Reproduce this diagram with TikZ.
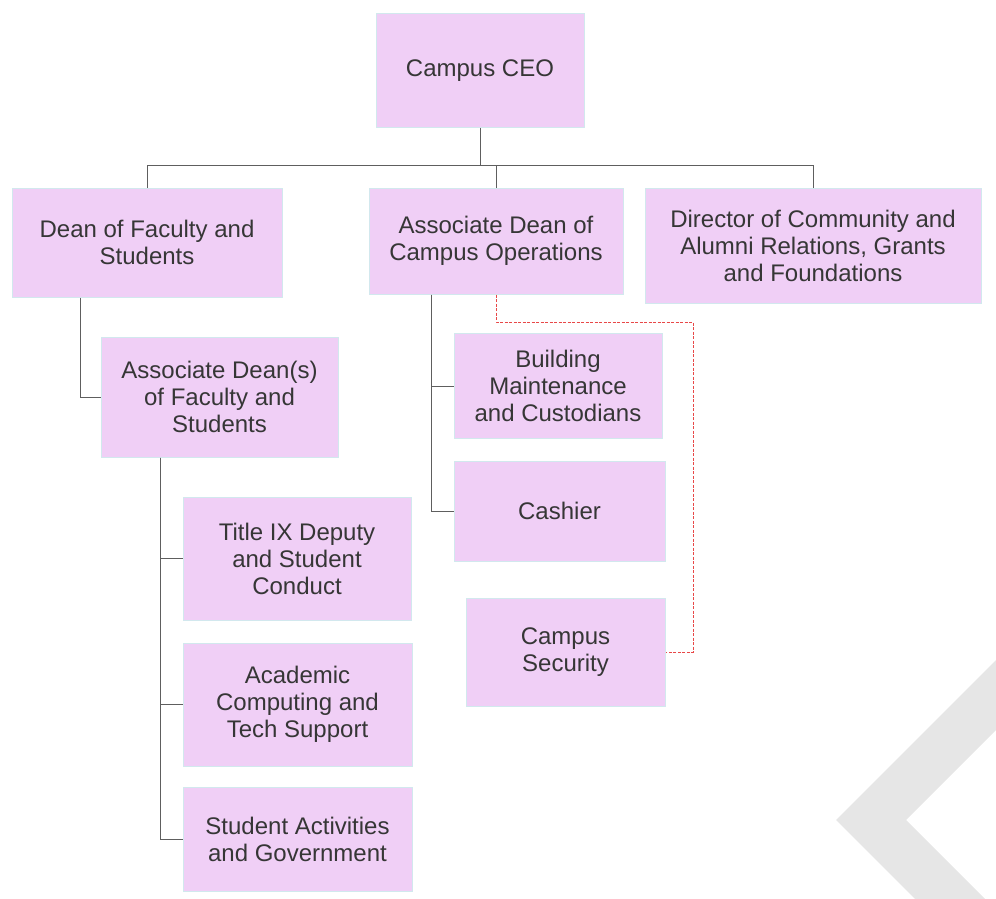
\documentclass[tikz,border=0pt]{standalone}
\usepackage{fontspec}
\setmainfont{Liberation Sans}
\definecolor{boxfill}{HTML}{F0CFF6}
\definecolor{boxline}{HTML}{D2E8EE}
\definecolor{txt}{HTML}{363636}
\definecolor{conncol}{HTML}{5E5E5E}
\definecolor{redline}{HTML}{E84848}
\definecolor{chev}{HTML}{E6E6E6}
\begin{document}
\begin{tikzpicture}[x=1pt,y=-1pt,
  orgbox/.style={draw=boxline, line width=1pt, fill=boxfill, text=txt, align=center,
    inner sep=0pt, font=\fontsize{24}{27}\selectfont},
  conn/.style={draw=conncol, line width=1pt},
  dotted link/.style={draw=redline, line width=1pt, dash pattern=on 3pt off 1.5pt}]
\useasboundingbox (0,0) rectangle (996,899);
% background chevron
\begin{scope}
\clip (0,0) rectangle (996,899);
\fill[chev] (836,820) -- (996,660) -- (996,730) -- (906,820) -- (985,899) -- (915,899) -- cycle;
\end{scope}
% nodes
\node[orgbox, minimum width=208pt, minimum height=113pt] (ceo) at (480,70.5) {Campus CEO};
\node[orgbox, minimum width=270pt, minimum height=109pt] (dean) at (147,242.5) {Dean of Faculty and\\Students};
\node[orgbox, minimum width=254pt, minimum height=106pt] (ops) at (496,241) {Associate Dean of\\Campus Operations};
\node[orgbox, minimum width=336pt, minimum height=115pt] (dir) at (813,245.5) {Director of Community and\\Alumni Relations, Grants\\and Foundations};
\node[orgbox, minimum width=237pt, minimum height=120pt] (adf) at (219.5,397) {Associate Dean(s)\\of Faculty and\\Students};
\node[orgbox, minimum width=228pt, minimum height=123pt] (t9) at (297,558.5) {Title IX Deputy\\and Student\\Conduct};
\node[orgbox, minimum width=229pt, minimum height=123pt] (acad) at (297.5,704.5) {Academic\\Computing and\\Tech Support};
\node[orgbox, minimum width=229pt, minimum height=104pt] (stud) at (297.5,839.5) {Student Activities\\and Government};
\node[orgbox, minimum width=208pt, minimum height=105pt] (bm) at (558,386) {Building\\Maintenance\\and Custodians};
\node[orgbox, minimum width=211pt, minimum height=100pt] (cash) at (559.5,511) {Cashier};
\node[orgbox, minimum width=199pt, minimum height=108pt] (sec) at (565.5,652) {Campus\\Security};
% connectors
\coordinate (bus) at (0,165);
\draw[conn] (ceo.south) -- (ceo.south |- bus);
\draw[conn] (ceo.south |- bus) -| (dean.north);
\draw[conn] (ceo.south |- bus) -| (ops.north);
\draw[conn] (ceo.south |- bus) -| (dir.north);
\draw[conn] ([xshift=-67pt]dean.south) |- (adf.west);
\draw[conn] ([xshift=60pt]adf.south west) |- (t9.west);
\draw[conn] ([xshift=60pt]adf.south west) |- (acad.west);
\draw[conn] ([xshift=60pt]adf.south west) |- (stud.west);
\draw[conn] ([xshift=63pt]ops.south west) |- (bm.west);
\draw[conn] ([xshift=63pt]ops.south west) |- (cash.west);
\coordinate (rj) at (693,322);
\draw[dotted link] (ops.south) |- (rj) |- (sec.east);
\end{tikzpicture}
\end{document}
